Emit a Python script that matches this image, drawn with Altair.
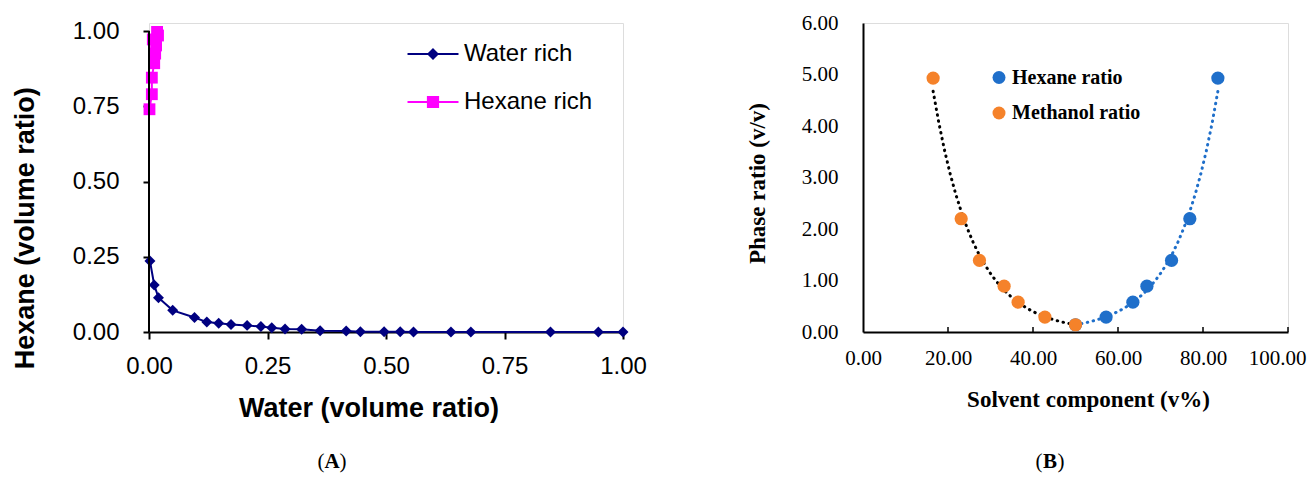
import altair as alt
import pandas as pd

# ---------------- Panel A data ----------------
water_x = [0.002, 0.011, 0.020, 0.050, 0.096, 0.122, 0.147, 0.173, 0.207, 0.236, 0.259, 0.287,
           0.322, 0.361, 0.416, 0.446, 0.496, 0.530, 0.558, 0.637, 0.679, 0.847, 0.948, 1.000]
water_y = [0.236, 0.156, 0.114, 0.072, 0.048, 0.033, 0.029, 0.025, 0.022, 0.018, 0.014, 0.010,
           0.009, 0.004, 0.003, 0.001, 0.001, 0.001, 0.000, 0.000, 0.000, 0.000, 0.000, 0.000]
hexane_x = [0.001, 0.006, 0.006, 0.011, 0.013, 0.015, 0.008, 0.019, 0.017]
hexane_y = [0.740, 0.790, 0.845, 0.893, 0.925, 0.952, 0.972, 0.985, 0.997]
series_a = ["Water rich", "Hexane rich"]
ticks_a = [0.0, 0.25, 0.5, 0.75, 1.0]
axis_line_a = [0.0, 1.0]

# ---------------- Panel B data ----------------
hexane_ratio_x = [50.0, 57.2, 63.5, 66.8, 72.6, 76.9, 83.5]
methanol_ratio_x = [50.0, 42.8, 36.5, 33.2, 27.4, 23.1, 16.5]
phase_ratio = [0.14, 0.29, 0.58, 0.89, 1.39, 2.20, 4.93]
series_b = ["Hexane ratio", "Methanol ratio"]
ticks_bx = [0, 20, 40, 60, 80, 100]
ticks_by = [0, 1, 2, 3, 4, 5, 6]
captions = ["A", "B"]

NAVY = "#000080"
MAGENTA = "#FF00FF"
BLUE = "#1f6fca"
ORANGE = "#f5822a"

rows = []
for i, (x, y) in enumerate(zip(water_x, water_y)):
    rows.append({"series": series_a[0], "x": x, "y": y, "order": i})
for i, (x, y) in enumerate(zip(hexane_x, hexane_y)):
    rows.append({"series": series_a[1], "x": x, "y": y, "order": i})
dfA = pd.DataFrame(rows)

rows = []
for x, y in zip(hexane_ratio_x, phase_ratio):
    rows.append({"series": series_b[0], "x": x, "y": y})
for x, y in zip(methanol_ratio_x, phase_ratio):
    rows.append({"series": series_b[1], "x": x, "y": y})
dfB = pd.DataFrame(rows)

# ---------------- Panel A ----------------
WA, HA = 474, 309
SANS = "Liberation Sans"
SERIF = "Liberation Serif"

xA = alt.X("x:Q", scale=alt.Scale(domain=[0, 1], nice=False, zero=False),
           axis=alt.Axis(values=ticks_a, format=".2f", title="Water (volume ratio)",
                         labelFont=SANS, labelFontSize=24, labelColor="black", labelFlush=False,
                         labelOverlap=False, labelPadding=15, tickSize=7, tickWidth=2,
                         tickColor="black", domainColor="black", domainWidth=2,
                         titleFont=SANS, titleFontSize=27, titleFontWeight="bold", titleColor="black",
                         titleX=219.5, titleY=84.3, titleBaseline="alphabetic", titleAlign="center",
                         grid=False))
yA = alt.Y("y:Q", scale=alt.Scale(domain=[0, HA / 301.0], nice=False, zero=False),
           axis=alt.Axis(values=ticks_a, format=".2f", title="Hexane (volume ratio)",
                         labelFont=SANS, labelFontSize=24, labelColor="black", labelFlush=False,
                         labelOverlap=False, labelPadding=24, tickSize=6, tickWidth=2,
                         tickColor="black", domain=False,
                         titleFont=SANS, titleFontSize=27, titleFontWeight="bold", titleColor="black",
                         titleX=-116, titleY=204.8, titleBaseline="alphabetic", titleAlign="center",
                         titleAngle=270, grid=False))

baseA = alt.Chart(dfA)
water_line = baseA.transform_filter(alt.datum.series == series_a[0]).mark_line(
    color=NAVY, strokeWidth=2).encode(x=xA, y=yA, order="order:Q")
water_pts = baseA.transform_filter(alt.datum.series == series_a[0]).mark_point(
    shape="diamond", filled=True, size=120, color=NAVY, opacity=1).encode(x=xA, y=yA)
hex_line = baseA.transform_filter(alt.datum.series == series_a[1]).mark_line(
    color=MAGENTA, strokeWidth=2).encode(x=xA, y=yA, order="order:Q")
hex_pts = baseA.transform_filter(alt.datum.series == series_a[1]).mark_point(
    shape="square", filled=True, size=140, color=MAGENTA, opacity=1).encode(x=xA, y=yA)

axis_df = pd.DataFrame({"x": [axis_line_a[0]], "y": [axis_line_a[0]], "y2": [axis_line_a[1]]})
y_axis_rule = alt.Chart(axis_df).mark_rule(color="black", strokeWidth=2).encode(
    x=xA, y=yA, y2="y2:Q")

legA = alt.Legend(title=None, orient="none", legendX=270, legendY=17, padding=0,
                  labelFont=SANS, labelFontSize=24, labelColor="black",
                  symbolSize=650, symbolStrokeWidth=2, symbolOpacity=1,
                  labelOffset=17, rowPadding=22)
shape_paths = ["M-2,0L2,0M0,-0.36L0.36,0L0,0.36L-0.36,0Z",
               "M-2,0L2,0M-0.4,-0.4L0.4,-0.4L0.4,0.4L-0.4,0.4Z"]
legend_layer = baseA.transform_filter("false").mark_point(
    filled=True, opacity=1, strokeWidth=2, size=650).encode(
    x=xA, y=yA,
    shape=alt.Shape("series:N", scale=alt.Scale(domain=series_a, range=shape_paths), legend=legA),
    color=alt.Color("series:N", scale=alt.Scale(domain=series_a, range=[NAVY, MAGENTA]), legend=legA),
    stroke=alt.Stroke("series:N", scale=alt.Scale(domain=series_a, range=[NAVY, MAGENTA]), legend=legA),
)

cap_df = pd.DataFrame({"c": [0]})


def caption(letter, cx, cy):
    fs = 21
    paren_l = alt.Chart(cap_df).mark_text(text="(", font=SERIF, fontSize=fs, align="right",
                                          baseline="alphabetic", color="black").encode(
        x=alt.value(cx - 7.5), y=alt.value(cy))
    mid = alt.Chart(cap_df).mark_text(text=letter, font=SERIF, fontSize=fs, fontWeight="bold",
                                      align="center", baseline="alphabetic", color="black").encode(
        x=alt.value(cx), y=alt.value(cy))
    paren_r = alt.Chart(cap_df).mark_text(text=")", font=SERIF, fontSize=fs, align="left",
                                          baseline="alphabetic", color="black").encode(
        x=alt.value(cx + 7.5), y=alt.value(cy))
    return [paren_l, mid, paren_r]


CAP_Y = 467 - 21.7
panelA = alt.layer(water_line, hex_line, water_pts, hex_pts, y_axis_rule, legend_layer,
                   *caption(captions[0], 331 - 148, CAP_Y)).properties(width=WA, height=HA)

# ---------------- Panel B ----------------
WB, HB = 425, 309
last_tick = "datum.value == 100"
xB = alt.X("x:Q", scale=alt.Scale(domain=[0, 100], nice=False, zero=False),
           axis=alt.Axis(values=ticks_bx, format=".2f", title="Solvent component (v%)",
                         labelFont=SERIF, labelFontSize=21, labelColor="black", labelFlush=False,
                         labelOverlap=False, labelPadding=15, ticks=False, tickSize=0,
                         labelAlign={"condition": {"test": last_tick, "value": "right"}, "value": "center"},
                         labelOffset={"condition": {"test": last_tick, "value": 18}, "value": 0},
                         domainColor="black", domainWidth=2,
                         titleFont=SERIF, titleFontSize=23, titleFontWeight="bold", titleColor="black",
                         titleX=225, titleY=74.3, titleBaseline="alphabetic", titleAlign="center",
                         grid=False))
yB = alt.Y("y:Q", scale=alt.Scale(domain=[0, 6], nice=False, zero=False),
           axis=alt.Axis(values=ticks_by, format=".2f", title="Phase ratio (v/v)",
                         labelFont=SERIF, labelFontSize=21, labelColor="black", labelFlush=False,
                         labelOverlap=False, labelPadding=25, ticks=False, tickSize=0,
                         domainColor="black", domainWidth=2,
                         titleFont=SERIF, titleFontSize=23, titleFontWeight="bold", titleColor="black",
                         titleX=-99, titleY=160, titleBaseline="alphabetic", titleAlign="center",
                         titleAngle=270, grid=False))

baseB = alt.Chart(dfB)


def trend(series_name, color):
    return baseB.transform_filter(alt.datum.series == series_name).transform_calculate(
        ly="log(datum.y)").transform_regression(
        "x", "ly", method="poly", order=1, groupby=["series"]).transform_calculate(
        y="exp(datum.ly)").mark_line(
        color=color, strokeDash=[0.5, 5.5], strokeCap="round", strokeWidth=3).encode(x=xB, y=yB)


trend_m = trend(series_b[1], "black")
trend_h = trend(series_b[0], BLUE)

legB = alt.Legend(title=None, orient="none", legendX=126, legendY=44.5, padding=0,
                  labelFont=SERIF, labelFontSize=20, labelFontWeight="bold", labelColor="black",
                  symbolSize=169, symbolType="circle", symbolStrokeWidth=0, symbolOpacity=1,
                  labelOffset=3, rowPadding=15.5)
pts_b = baseB.mark_circle(size=175, opacity=1).encode(
    x=xB, y=yB,
    color=alt.Color("series:N", scale=alt.Scale(domain=series_b, range=[BLUE, ORANGE]), legend=legB))

tick_df = pd.DataFrame({"x": ticks_bx[1:]})
ticks_b = alt.Chart(tick_df).mark_rule(color="black", strokeWidth=1.5).encode(
    x=xB, y=alt.value(HB), y2=alt.value(HB - 5))

panelB = alt.layer(ticks_b, trend_m, trend_h, pts_b,
                   *caption(captions[1], 1049 - 862, CAP_Y)).properties(width=WB, height=HB)

chart = alt.hconcat(panelA, panelB, spacing=240).properties(
    bounds="flush", padding={"left": 2, "top": 3, "right": 0, "bottom": 0}
).resolve_scale(
    x="independent", y="independent", color="independent", shape="independent", stroke="independent"
).resolve_legend(
    color="independent", shape="independent", stroke="independent"
).configure_view(stroke=None).configure(background="white")

chart.save("out.html", embed_options={"renderer": "svg", "actions": False})
